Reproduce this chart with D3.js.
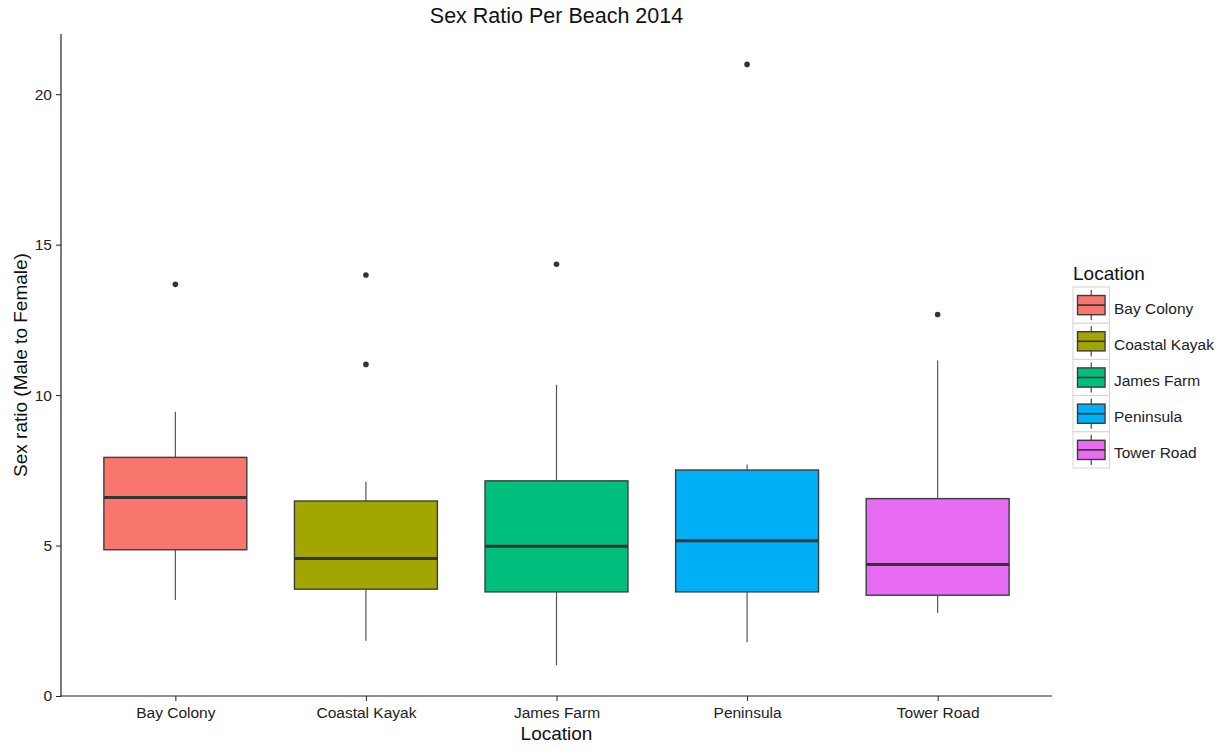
<!DOCTYPE html>
<html>
<head>
<meta charset="utf-8">
<script src="https://cdn.jsdelivr.net/npm/d3@7"></script>
<style>
  html, body { margin: 0; padding: 0; background: #fff; }
  svg { display: block; font-family: "Liberation Sans", Arial, Helvetica, sans-serif; }
</style>
</head>
<body>
<svg id="chart" width="1227" height="748"></svg>
<script>
// Box-plot summaries of sex ratio (male to female) per beach, 2014
const locations   = ["Bay Colony", "Coastal Kayak", "James Farm", "Peninsula", "Tower Road"];
const colors      = ["#F8766D", "#A3A500", "#00BF7D", "#00B0F6", "#E76BF3"];
const whiskerLow  = [3.19, 1.84, 1.02, 1.79, 2.77];
const lowerQ      = [4.86, 3.55, 3.46, 3.46, 3.35];
const medians     = [6.60, 4.57, 4.98, 5.16, 4.37];
const upperQ      = [7.93, 6.48, 7.15, 7.51, 6.56];
const whiskerHigh = [9.45, 7.12, 10.34, 7.69, 11.15];
const outliers    = [[13.68], [13.99, 11.02], [14.35], [20.99], [12.68]];
const yTicks      = [0, 5, 10, 15, 20];
const yDomain     = [0, 22];

const svg = d3.select("#chart");
const panel = { left: 61, right: 1052, top: 34, bottom: 696 };

// discrete x positions with 0.6 of a step of padding on each side
const x = d3.scalePoint()
  .domain(locations)
  .range([panel.left, panel.right])
  .padding(0.6);
const step = x.step();
const boxW = step * 0.75;

const y = d3.scaleLinear().domain(yDomain).range([panel.bottom, panel.top]);

const data = locations.map((loc, i) => ({
  loc, color: colors[i],
  lo: whiskerLow[i], q1: lowerQ[i], med: medians[i], q3: upperQ[i], hi: whiskerHigh[i],
  out: outliers[i]
}));

const g = svg.append("g");

// whiskers
g.selectAll("line.whisker-up").data(data).join("line")
  .attr("x1", d => x(d.loc)).attr("x2", d => x(d.loc))
  .attr("y1", d => y(d.q3)).attr("y2", d => y(d.hi))
  .attr("stroke", "#555").attr("stroke-width", 1.2);
g.selectAll("line.whisker-down").data(data).join("line")
  .attr("x1", d => x(d.loc)).attr("x2", d => x(d.loc))
  .attr("y1", d => y(d.q1)).attr("y2", d => y(d.lo))
  .attr("stroke", "#555").attr("stroke-width", 1.2);

// boxes
g.selectAll("rect.box").data(data).join("rect")
  .attr("x", d => x(d.loc) - boxW / 2)
  .attr("width", boxW)
  .attr("y", d => y(d.q3))
  .attr("height", d => y(d.q1) - y(d.q3))
  .attr("fill", d => d.color)
  .attr("stroke", "#3d3d3d").attr("stroke-width", 1.4);

// medians
g.selectAll("line.median").data(data).join("line")
  .attr("x1", d => x(d.loc) - boxW / 2).attr("x2", d => x(d.loc) + boxW / 2)
  .attr("y1", d => y(d.med)).attr("y2", d => y(d.med))
  .attr("stroke", "#333").attr("stroke-width", 3);

// outliers
const outPts = data.flatMap(d => d.out.map(v => ({ loc: d.loc, v })));
g.selectAll("circle.outlier").data(outPts).join("circle")
  .attr("cx", d => x(d.loc)).attr("cy", d => y(d.v))
  .attr("r", 2.8).attr("fill", "#333");

// axes
const axisColor = "#222";
const tickFont = 15.5;
const yAxis = svg.append("g")
  .attr("transform", `translate(${panel.left},0)`)
  .call(d3.axisLeft(y).tickValues(yTicks).tickSize(5).tickPadding(4).tickFormat(d3.format("d")));
yAxis.select(".domain").remove();
yAxis.append("line").attr("x1", 0).attr("x2", 0)
  .attr("y1", panel.top).attr("y2", panel.bottom + 0.5)
  .attr("stroke", axisColor).attr("stroke-width", 1.2);
yAxis.selectAll(".tick line").attr("stroke", axisColor);
yAxis.selectAll(".tick text").attr("font-size", tickFont).attr("fill", "#222")
  .attr("font-family", "Liberation Sans, Arial, sans-serif");

const xAxis = svg.append("g")
  .attr("transform", `translate(0,${panel.bottom})`)
  .call(d3.axisBottom(x).tickSize(5).tickPadding(6));
xAxis.select(".domain").remove();
xAxis.append("line").attr("x1", panel.left - 0.5).attr("x2", panel.right)
  .attr("y1", 0).attr("y2", 0)
  .attr("stroke", axisColor).attr("stroke-width", 1.2);
xAxis.selectAll(".tick line").attr("stroke", axisColor);
xAxis.selectAll(".tick text").attr("font-size", tickFont).attr("fill", "#222")
  .attr("font-family", "Liberation Sans, Arial, sans-serif");

// titles
svg.append("text")
  .attr("x", (panel.left + panel.right) / 2).attr("y", 23)
  .attr("text-anchor", "middle").attr("font-size", 21.5).attr("fill", "#111")
  .text("Sex Ratio Per Beach 2014");
svg.append("text")
  .attr("x", (panel.left + panel.right) / 2).attr("y", 740)
  .attr("text-anchor", "middle").attr("font-size", 19).attr("fill", "#111")
  .text("Location");
svg.append("text")
  .attr("transform", `translate(27,${(panel.top + panel.bottom) / 2}) rotate(-90)`)
  .attr("text-anchor", "middle").attr("font-size", 19).attr("fill", "#111")
  .text("Sex ratio (Male to Female)");

// legend
const legend = svg.append("g").attr("transform", "translate(1073,287)");
legend.append("text").attr("x", 0).attr("y", -7)
  .attr("font-size", 19).attr("fill", "#111").text("Location");
const keyH = 36.2, keyW = 36.5;
const keys = legend.selectAll("g.key").data(data).join("g")
  .attr("transform", (d, i) => `translate(0,${i * keyH})`);
keys.append("rect").attr("x", 0).attr("y", 0).attr("width", keyW).attr("height", keyH)
  .attr("fill", "#fff").attr("stroke", "#d4d4d4").attr("stroke-width", 1);
keys.append("line").attr("x1", keyW / 2).attr("x2", keyW / 2)
  .attr("y1", 3).attr("y2", keyH - 3).attr("stroke", "#444").attr("stroke-width", 1.2);
keys.append("rect").attr("x", 4.5).attr("y", 8.5).attr("width", keyW - 9).attr("height", keyH - 17)
  .attr("fill", d => d.color).attr("stroke", "#3d3d3d").attr("stroke-width", 1.4);
keys.append("line").attr("x1", 4.5).attr("x2", keyW - 4.5)
  .attr("y1", keyH / 2).attr("y2", keyH / 2).attr("stroke", "#333").attr("stroke-width", 1.6);
keys.append("text").attr("x", keyW + 4.5).attr("y", keyH / 2 + 8.5)
  .attr("font-size", tickFont).attr("fill", "#222").text(d => d.loc);
</script>
</body>
</html>
